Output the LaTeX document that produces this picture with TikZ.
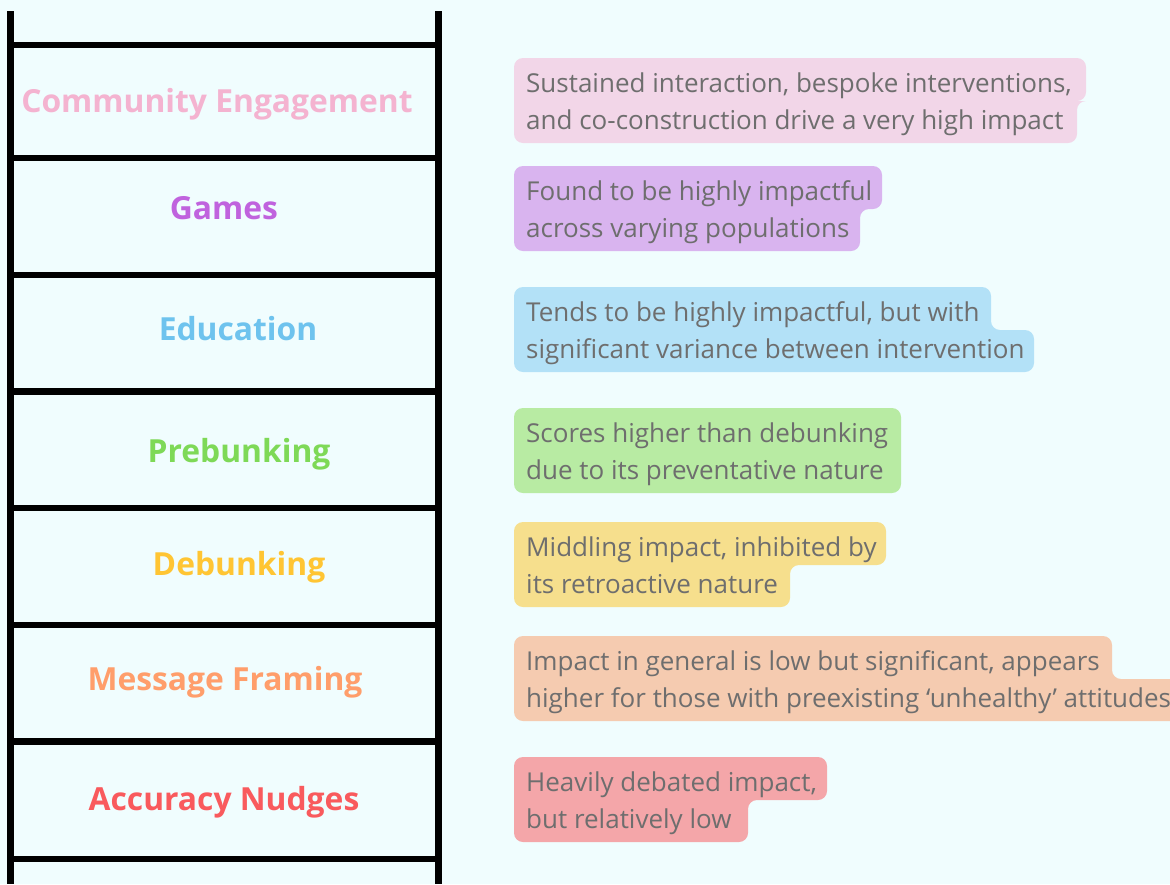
\documentclass[tikz,border=0pt]{standalone}
\usepackage{fontspec}
\setmainfont{Open Sans}

\definecolor{bg}{HTML}{F0FDFE}
\definecolor{descgray}{HTML}{6E6E6E}
\definecolor{ceC}{HTML}{F4B3D0}
\definecolor{ceF}{HTML}{F2D6E8}
\definecolor{gaC}{HTML}{C063DE}
\definecolor{gaF}{HTML}{D9B4EF}
\definecolor{edC}{HTML}{6EC3EE}
\definecolor{edF}{HTML}{B3E1F7}
\definecolor{prC}{HTML}{7ED957}
\definecolor{prF}{HTML}{B8EBA3}
\definecolor{deC}{HTML}{FFC533}
\definecolor{deF}{HTML}{F6DF8D}
\definecolor{mfC}{HTML}{FF9E6B}
\definecolor{mfF}{HTML}{F5CBB0}
\definecolor{anC}{HTML}{F95A5D}
\definecolor{anF}{HTML}{F4A6A9}

\tikzset{
  rail/.style={line width=6.6pt},
  rung/.style={line width=6.6pt},
  lbl/.style={font=\bfseries\fontsize{31.8}{36}\selectfont, anchor=base, inner sep=0pt},
  desc/.style={font=\fontsize{26}{32}\selectfont, text=descgray, anchor=base west, inner sep=0pt},
}

\begin{document}
\begin{tikzpicture}[x=1pt,y=-1pt]
\fill[bg] (0,0) rectangle (1170,884);
\useasboundingbox (0,0) rectangle (1170,884);

% ladder
\draw[rail] (10.7,11)--(10.7,884);
\draw[rail] (438.3,11)--(438.3,884);
\foreach \y in {45,158,275,391.5,508,625,741.5,859}
    \draw[rung] (10.7,\y)--(438.3,\y);

% intervention names
\foreach \nm/\cx/\by/\col/\txt in {
    ce/217/112/ceC/Community Engagement,
    ga/224/219/gaC/Games,
    ed/238/340/edC/Education,
    pr/239/462/prC/Prebunking,
    de/239/575/deC/Debunking,
    mf/225/690/mfC/Message Framing,
    an/224/810/anC/Accuracy Nudges}
{
    \node[lbl,text=\col] (\nm) at (\cx,\by) {\txt};
}

% impact notes
\foreach \nm/\tp/\ra/\rb/\col/\la/\lb in {
    ce/58/1086/1077/ceF/{Sustained interaction, bespoke interventions,}/{and co-construction drive a very high impact},
    ga/166/882/860/gaF/{Found to be highly impactful}/{across varying populations},
    ed/287/991/1034/edF/{Tends to be highly impactful, but with}/{significant variance between intervention},
    de/522/886/790/deF/{Middling impact, inhibited by}/{its retroactive nature},
    mf/636/1112/1190/mfF/{Impact in general is low but significant, appears}/{higher for those with preexisting ‘unhealthy’ attitudes},
    an/757/827/748/anF/{Heavily debated impact,}/{but relatively low}}
{
    \fill[\col,rounded corners=9pt] (514,\tp) -- (\ra,\tp) -- (\ra,\tp+43) -- (\rb,\tp+43) -- (\rb,\tp+85) -- (514,\tp+85) -- cycle;
    \node[desc] (\nm a) at (526,\tp+34) {\la};
    \node[desc] (\nm b) at (526,\tp+71) {\lb};
}
\fill[prF,rounded corners=9pt] (514,408) rectangle (901,493);
\node[desc] (pra) at (526,442) {Scores higher than debunking};
\node[desc] (prb) at (526,479) {due to its preventative nature};
\end{tikzpicture}
\end{document}
